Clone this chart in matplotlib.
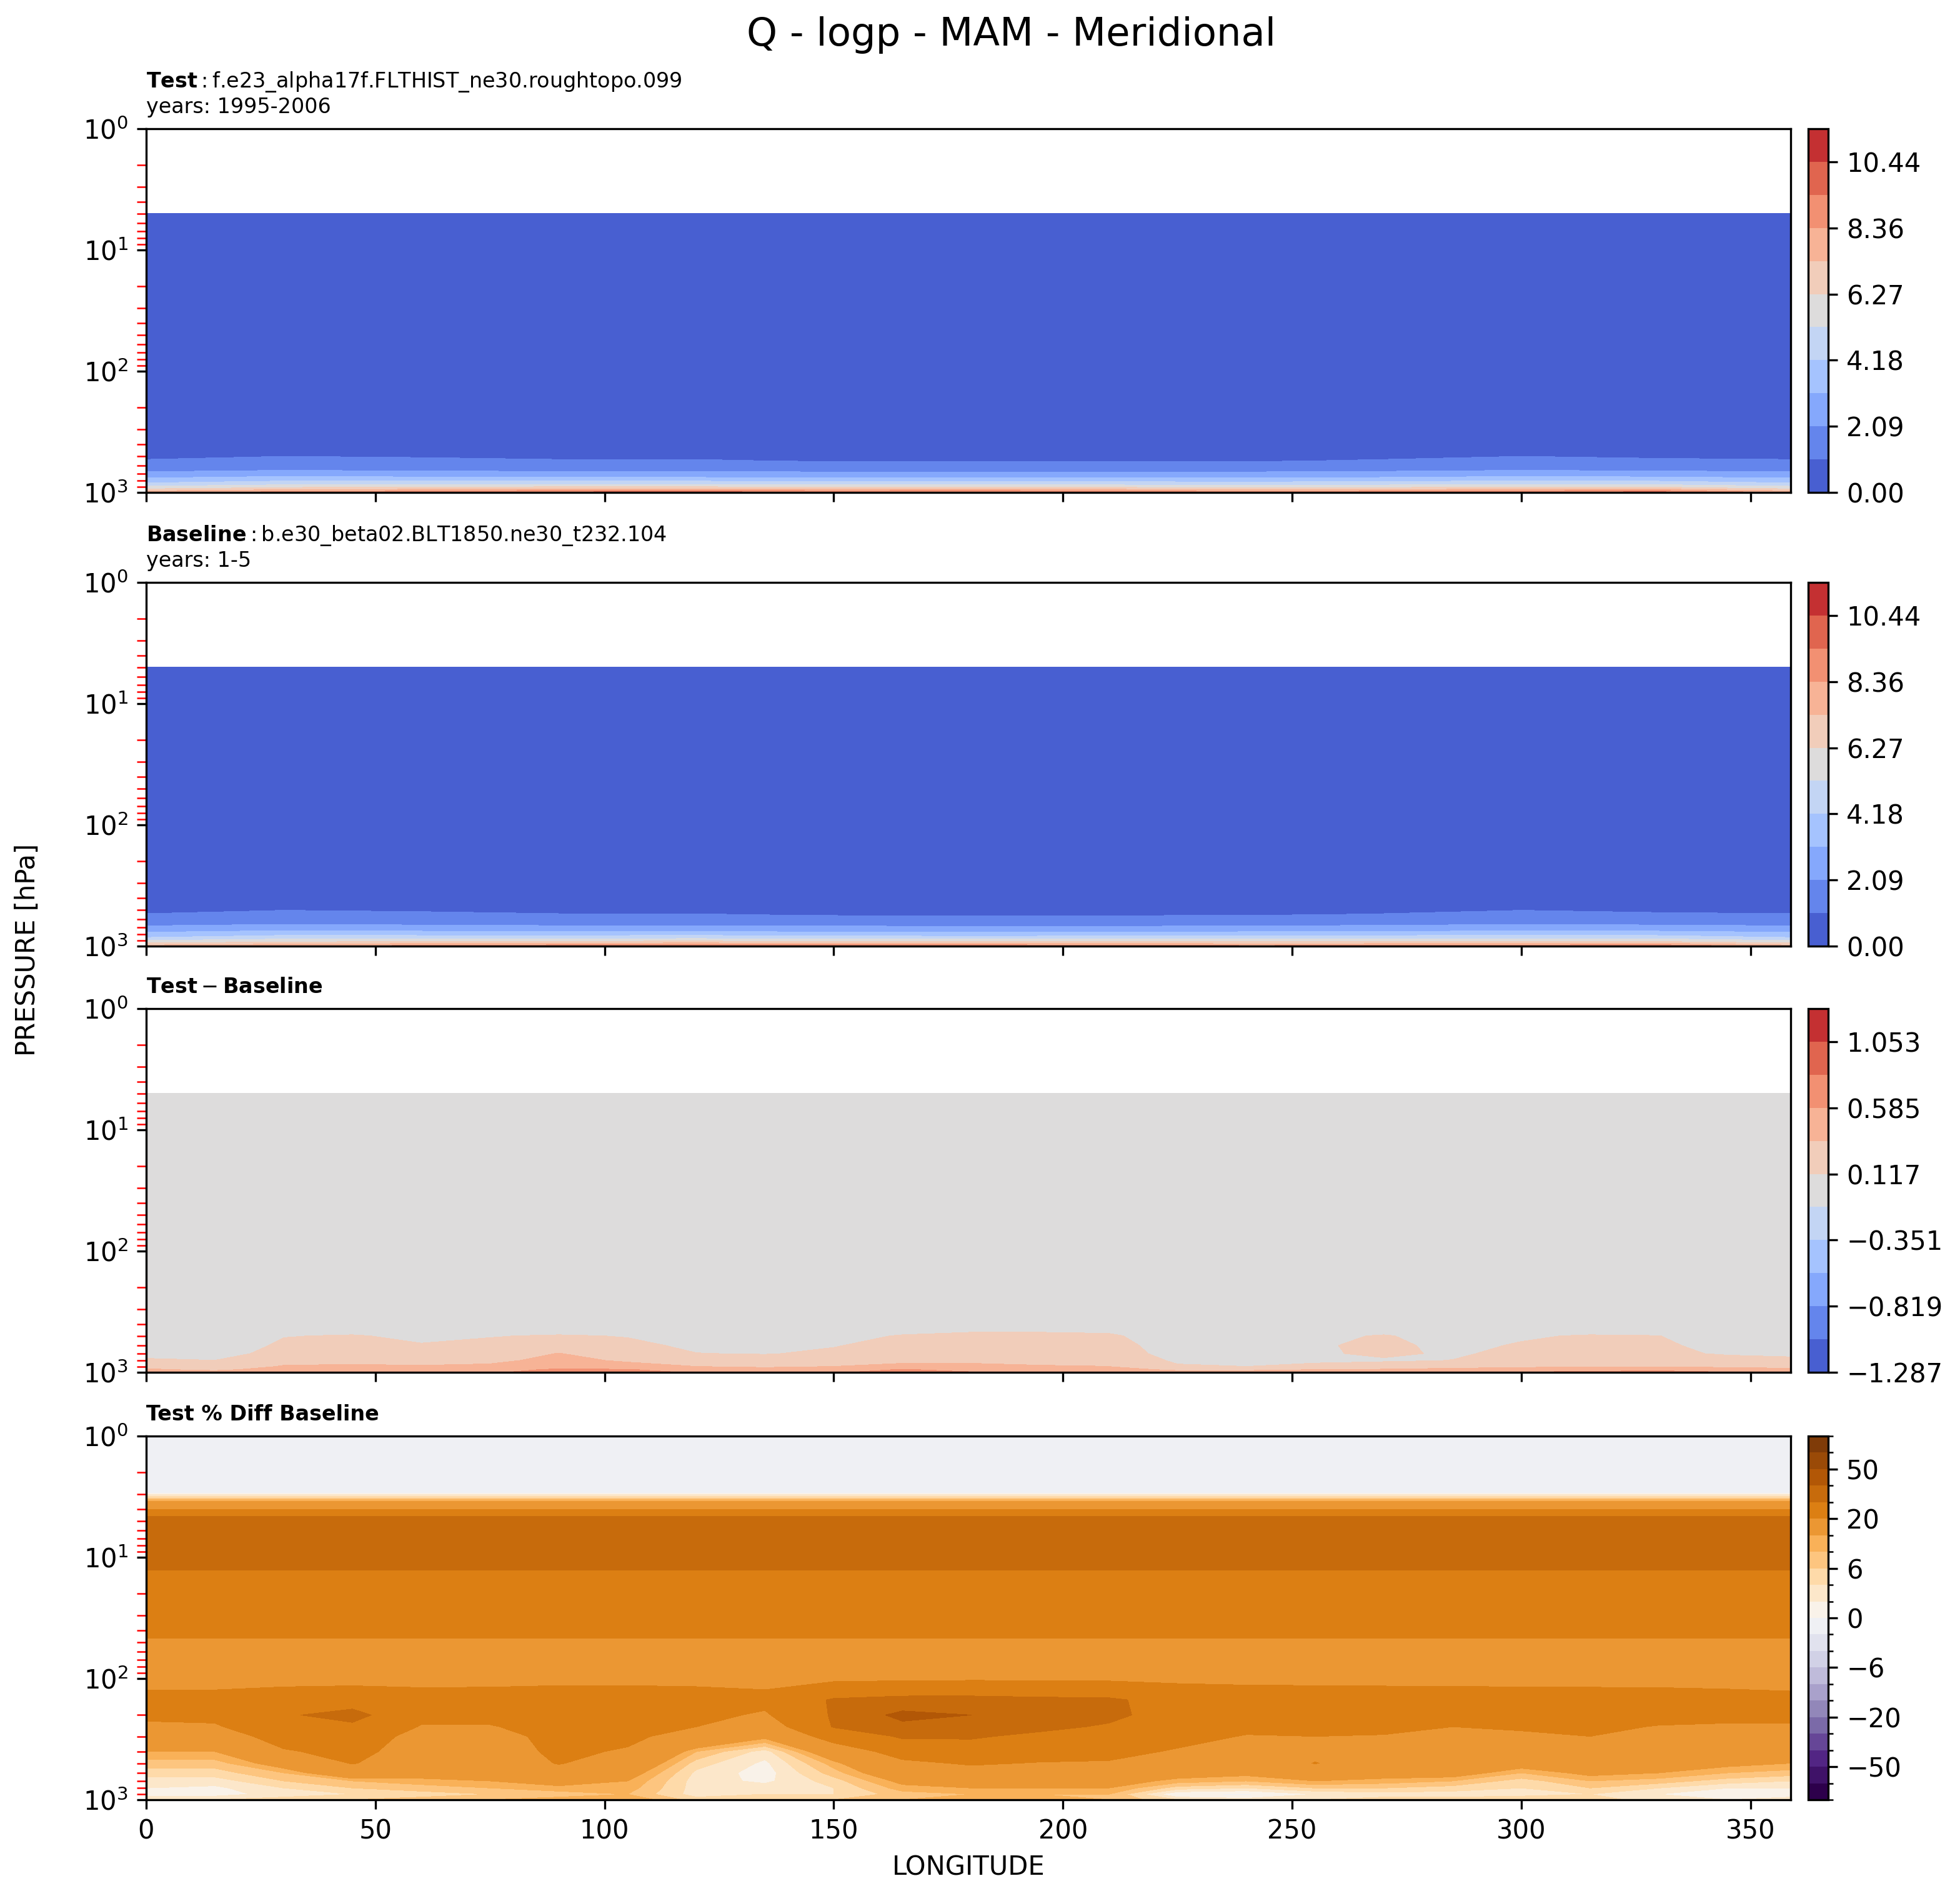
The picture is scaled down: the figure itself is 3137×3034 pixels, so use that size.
import numpy as np
import matplotlib.pyplot as plt
import matplotlib.colors as mcolors

# ---- data ----
case_test = "f.e23_alpha17f.FLTHIST_ne30.roughtopo.099"
case_base = "b.e30_beta02.BLT1850.ne30_t232.104"
years_test = "1995-2006"
years_base = "1-5"

# Q (g/kg), rows = pressure levels, columns = longitudes
lon_q = [0, 30, 60, 90, 120, 150, 180, 210, 240, 270, 300, 330, 358.75]
lev_q = [5, 100, 300, 450, 550, 650, 750, 850, 925, 1000]
q_test = [
    [0.003] * 13,
    [0.01] * 13,
    [0.3] * 13,
    [0.75] * 13,
    [1.1, 1.3, 1.2, 1.1, 1.1, 1.0, 0.98, 0.98, 1.0, 1.1, 1.3, 1.15, 1.1],
    [1.8, 2.0, 1.9, 1.8, 1.8, 1.75, 1.7, 1.7, 1.75, 1.85, 2.0, 1.9, 1.8],
    [3.0, 3.3, 3.2, 3.2, 3.1, 3.0, 3.0, 3.0, 3.0, 3.1, 3.3, 3.2, 3.0],
    [4.4, 4.9, 4.9, 5.0, 5.0, 4.8, 4.8, 4.8, 4.7, 4.8, 5.0, 4.9, 4.4],
    [6.0, 6.6, 6.8, 7.0, 7.0, 6.8, 6.9, 6.7, 6.5, 6.6, 6.8, 6.8, 6.0],
    [8.2, 8.8, 9.2, 9.8, 10.0, 9.6, 9.8, 9.5, 9.0, 9.2, 9.6, 10.0, 8.2],
]
q_base = [
    [0.003] * 13,
    [0.01] * 13,
    [0.3] * 13,
    [0.74] * 13,
    [1.08, 1.28, 1.18, 1.08, 1.08, 0.98, 0.97, 0.97, 1.0, 1.08, 1.28, 1.13, 1.08],
    [1.75, 1.95, 1.85, 1.75, 1.75, 1.7, 1.65, 1.65, 1.72, 1.8, 1.95, 1.85, 1.75],
    [2.9, 3.2, 3.1, 3.0, 3.0, 2.9, 2.85, 2.85, 2.95, 3.0, 3.2, 3.1, 2.9],
    [4.2, 4.7, 4.7, 4.7, 4.8, 4.6, 4.55, 4.6, 4.65, 4.7, 4.8, 4.7, 4.2],
    [5.8, 6.3, 6.5, 6.6, 6.7, 6.5, 6.5, 6.4, 6.4, 6.4, 6.5, 6.5, 5.8],
    [7.9, 8.4, 8.8, 9.2, 9.5, 9.2, 9.3, 9.1, 8.7, 8.8, 9.1, 9.4, 7.9],
]

# Test - Baseline (g/kg), columns = vertical profiles at each longitude
lon_d = [0, 15, 30, 45, 60, 75, 90, 105, 120, 135, 150, 165, 180,
         195, 210, 225, 240, 255, 270, 285, 300, 315, 330, 345, 358.75]
lev_d = [5, 300, 400, 500, 600, 700, 800, 900, 950, 1000]
diff_cols = [
    [0, 0, 0, 0, 0, 0.05, 0.15, 0.3, 0.38, 0.5],
    [0, 0, 0, 0, 0, 0.05, 0.12, 0.2, 0.3, 0.45],
    [0, 0, 0, 0.11, 0.15, 0.18, 0.26, 0.38, 0.45, 0.5],
    [0, 0, 0, 0.13, 0.17, 0.2, 0.28, 0.4, 0.5, 0.5],
    [0, 0, 0, 0.08, 0.13, 0.18, 0.26, 0.38, 0.45, 0.5],
    [0, 0, 0, 0.11, 0.15, 0.2, 0.3, 0.4, 0.5, 0.55],
    [0, 0, 0, 0.13, 0.2, 0.36, 0.42, 0.5, 0.62, 0.7],
    [0, 0, 0, 0.11, 0.15, 0.2, 0.32, 0.45, 0.6, 0.7],
    [0, 0, 0, 0.05, 0.09, 0.12, 0.2, 0.36, 0.48, 0.55],
    [0, 0, 0, 0.04, 0.08, 0.11, 0.18, 0.33, 0.42, 0.5],
    [0, 0, 0, 0.06, 0.11, 0.14, 0.22, 0.36, 0.48, 0.55],
    [0, 0, 0, 0.13, 0.16, 0.2, 0.3, 0.42, 0.6, 0.7],
    [0, 0, 0.05, 0.15, 0.2, 0.22, 0.3, 0.42, 0.52, 0.6],
    [0, 0, 0.05, 0.15, 0.18, 0.2, 0.27, 0.38, 0.48, 0.55],
    [0, 0, 0.04, 0.14, 0.17, 0.18, 0.25, 0.36, 0.45, 0.5],
    [0, 0, 0, 0.03, 0.05, 0.07, 0.09, 0.14, 0.3, 0.45],
    [0, 0, 0, 0.02, 0.03, 0.05, 0.07, 0.12, 0.3, 0.45],
    [0, 0, 0, 0.08, 0.1, 0.1, 0.09, 0.16, 0.35, 0.5],
    [0, 0, 0, 0.13, 0.15, 0.14, 0.1, 0.2, 0.38, 0.5],
    [0, 0, 0, 0.05, 0.08, 0.1, 0.12, 0.28, 0.42, 0.55],
    [0, 0, 0, 0.1, 0.13, 0.15, 0.18, 0.32, 0.45, 0.6],
    [0, 0, 0, 0.13, 0.16, 0.16, 0.18, 0.35, 0.48, 0.65],
    [0, 0, 0, 0.12, 0.15, 0.15, 0.17, 0.35, 0.5, 0.7],
    [0, 0, 0, 0.02, 0.05, 0.1, 0.18, 0.32, 0.45, 0.6],
    [0, 0, 0, 0, 0.05, 0.09, 0.15, 0.3, 0.4, 0.5],
]

# Test % Diff Baseline: zonally uniform upper part + lon-varying lower part
lev_pct_top = [1, 2, 2.95, 3.45, 4.05, 4.6, 8, 12.7, 30, 46.6, 75]
pct_top = [-1, -1, 0, 10, 20, 30, 37, 30, 25, 20, 15]
lev_pct_low = [100, 150, 200, 250, 300, 400, 500, 600, 700, 800, 900, 1000]
pct_cols = [
    [17.0, 23, 22, 18, 16, 10, 7, 5, 3, 2, 1.5, 3],
    [17.2, 23, 22, 19, 15, 10, 7, 5, 3, 1.5, 1, 4],
    [17.4, 25, 29, 27, 24, 19, 12, 8, 6, 4, 3, 5],
    [17.5, 26, 33, 28, 25, 23, 20.5, 14, 8, 6, 4, 6],
    [17.6, 24, 22, 19.5, 17, 15, 14, 12, 9, 7, 5, 7],
    [17.8, 24, 22, 19.5, 17, 15, 14, 12, 10, 8, 6, 8],
    [18.0, 25, 24, 23, 22.5, 22, 20.5, 16, 12, 9, 7, 9],
    [18.0, 25, 24, 23, 22, 19, 15, 12, 10, 9, 8, 10],
    [18.0, 24, 22, 20, 16, 8, 5, 3.5, 3, 3, 3, 5],
    [18.2, 22, 19, 15, 11, 3, 1.5, 1, 1.5, 3, 4, 6],
    [18.5, 31, 31, 30.5, 24, 14, 9, 7, 5, 4, 4, 6],
    [18.8, 33, 43, 37, 31, 24, 18, 14, 11, 9, 7, 8],
    [19.0, 33, 40, 36, 31, 25, 21, 16, 12, 10, 8, 9],
    [19.0, 32, 36, 32, 28, 24, 19.5, 15, 12, 10, 8, 9],
    [18.8, 31.5, 32, 29, 26, 23, 19, 15, 12, 10, 8, 8],
    [18.5, 26, 26, 25, 23, 19, 15, 12, 9, 5, 0, 4],
    [18.2, 25, 24, 22, 19.5, 17, 14, 11, 8, 4, -0.5, 3],
    [18.0, 25, 24, 22, 20, 18, 20.3, 14, 10, 6, 2, 4],
    [17.8, 25, 24, 22, 19.5, 17, 15, 12, 9, 6, 3, 5],
    [17.6, 25, 23, 20, 18, 16, 14, 12, 8, 5, 3, 5],
    [17.4, 25, 23, 21, 18.5, 15, 12, 8, 5, 4, 3, 6],
    [17.2, 25, 24, 22, 20, 17, 14, 11, 8, 6, 4, 5],
    [17.0, 25, 23, 19.5, 17, 15, 13, 10, 7, 4, 2, 3],
    [16.8, 24, 22, 19, 16, 14, 11, 8, 5, 2, 0.5, 2],
    [16.5, 23, 22, 19, 16, 13, 10, 7, 4, 2, 1, 3],
]

# contour levels
q_min, q_max = 0.0, 11.489
d_max = 1.287
pct_levels = [-100, -75, -50, -40, -30, -20, -10, -8, -6, -4, -2, 0,
              2, 4, 6, 8, 10, 20, 30, 40, 50, 75, 100]
pct_ticks = [-50, -20, -6, 0, 6, 20, 50]

# ---- assemble fields ----
q_levels = np.linspace(q_min, q_max, 12)
d_levels = np.linspace(-d_max, d_max, 12)
diff = np.array(diff_cols).T
pct_upper = np.tile(np.array(pct_top)[:, None], (1, len(lon_d)))
pct = np.vstack([pct_upper, np.array(pct_cols).T])
lev_pct = lev_pct_top + lev_pct_low

W, Hf = 3137, 3034
fig = plt.figure(figsize=(W / 300, Hf / 300), dpi=300)

tops = [206, 932, 1614, 2298]
H = 582
axes, caxes = [], []
for top in tops:
    ax = fig.add_axes([234 / W, 1 - (top + H) / Hf, 2632 / W, H / Hf])
    cax = fig.add_axes([2894 / W, 1 - (top + H) / Hf, 32 / W, H / Hf])
    axes.append(ax)
    caxes.append(cax)

cf1 = axes[0].contourf(lon_q, lev_q, q_test, levels=q_levels, cmap="coolwarm")
cf2 = axes[1].contourf(lon_q, lev_q, q_base, levels=q_levels, cmap="coolwarm")
cf3 = axes[2].contourf(lon_d, lev_d, diff, levels=d_levels, cmap="coolwarm")
pct_cmap = plt.get_cmap("PuOr_r")
pct_norm = mcolors.BoundaryNorm(pct_levels, pct_cmap.N)
cf4 = axes[3].contourf(lon_d, lev_pct, pct, levels=pct_levels, cmap=pct_cmap, norm=pct_norm)

for i, ax in enumerate(axes):
    ax.set_yscale("log")
    ax.set_ylim(1000, 1)
    ax.set_xlim(0, 358.75)
    ax.set_xticks([0, 50, 100, 150, 200, 250, 300, 350])
    ax.tick_params(axis="y", which="minor", color="red", length=3.5)
    if i < 3:
        ax.tick_params(axis="x", labelbottom=False)

axes[0].set_title(r"$\mathbf{Test}:$" + case_test + "\nyears: " + years_test, loc="left", fontsize=8)
axes[1].set_title(r"$\mathbf{Baseline}:$" + case_base + "\nyears: " + years_base, loc="left", fontsize=8)
axes[2].set_title(r"$\mathbf{Test} - \mathbf{Baseline}$", loc="left", fontsize=8)
axes[3].set_title("Test % Diff Baseline", loc="left", fontsize=8, fontweight="bold")

for cf, cax in [(cf1, caxes[0]), (cf2, caxes[1])]:
    cb = fig.colorbar(cf, cax=cax)
    cb.set_ticks(q_levels[::2])
    cb.set_ticklabels([f"{v:.2f}" for v in q_levels[::2]])

cb = fig.colorbar(cf3, cax=caxes[2])
cb.set_ticks(d_levels[::2])
cb.set_ticklabels([f"{v:.3f}".replace("-", "\u2212") for v in d_levels[::2]])

cb = fig.colorbar(cf4, cax=caxes[3])
cb.set_ticks(pct_ticks)
cb.set_ticks(pct_levels, minor=True)

axes[3].set_xlabel("LONGITUDE")
fig.text(0.014, 0.499, "PRESSURE [hPa]", rotation=90, ha="center", va="center")
fig.suptitle("Q - logp - MAM - Meridional", fontsize=15, x=0.516, y=0.9815, va="center")

fig.savefig("out.png", dpi=300)
